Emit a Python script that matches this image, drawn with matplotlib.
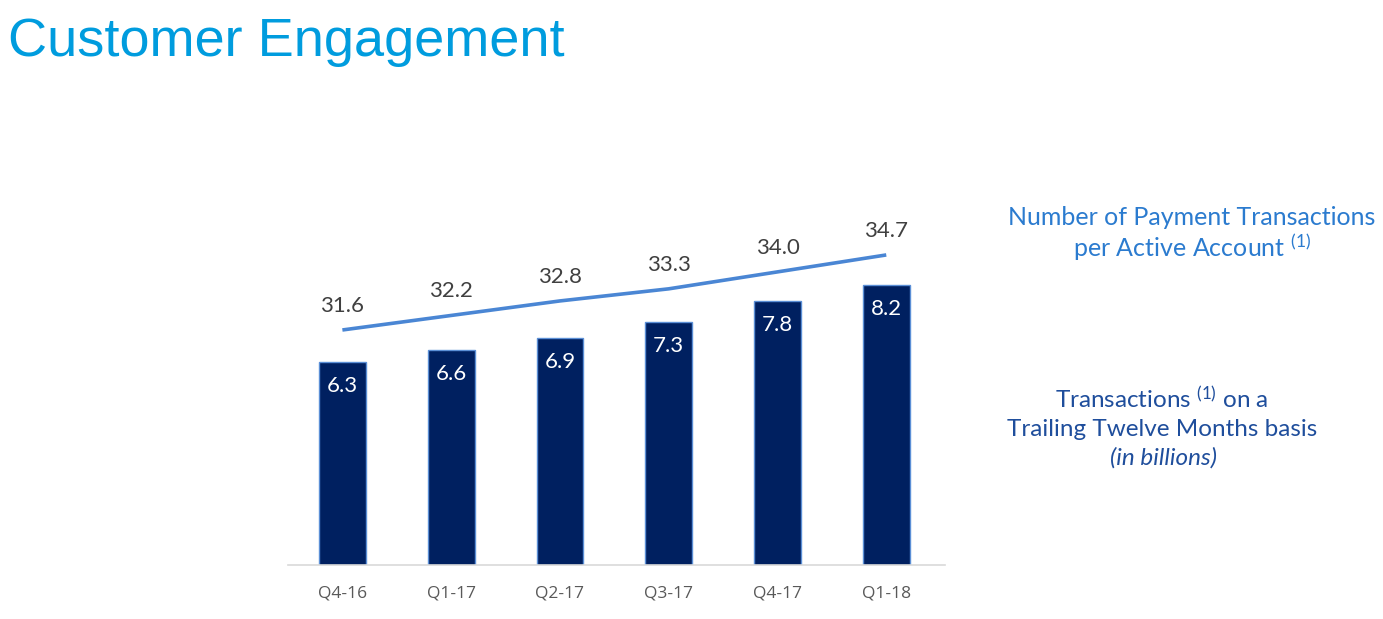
import matplotlib.pyplot as plt
import numpy as np

plt.rcParams['mathtext.fontset'] = 'custom'
plt.rcParams['mathtext.rm'] = 'Lato'
plt.rcParams['mathtext.it'] = 'Lato:italic'

# chart data
quarters = ['Q4-16', 'Q1-17', 'Q2-17', 'Q3-17', 'Q4-17', 'Q1-18']
ttm_transactions = [6.3, 6.6, 6.9, 7.3, 7.8, 8.2]          # billions, bars
tx_per_account = [31.6, 32.2, 32.8, 33.3, 34.0, 34.7]      # line

navy = '#002060'
line_blue = '#4A86D4'
title_blue = '#009CDE'

fig = plt.figure(figsize=(13.83, 6.19), dpi=100)
ax = fig.add_axes([288 / 1383, 1 - 565 / 619, 657 / 1383, 365 / 619])
x = np.arange(len(quarters))

bars = ax.bar(x, ttm_transactions, width=0.43, color=navy, edgecolor='#5B8FD6', linewidth=1)
ax.set_ylim(1.29, 10.30)
ax.set_xlim(-0.5, 5.54)
for xi, v in zip(x, ttm_transactions):
    ax.annotate(f'{v:.1f}', (xi, v), xytext=(0, -24), textcoords='offset pixels',
                ha='center', va='center', color='white', fontsize=16, family='Lato')

for s in ['top', 'left', 'right']:
    ax.spines[s].set_visible(False)
ax.spines['bottom'].set_color('#D9D9D9')
ax.spines['bottom'].set_linewidth(1.2)
ax.set_yticks([])
ax.set_xticks(x)
ax.set_xticklabels(quarters, fontsize=12.5, color='#595959', family='Open Sans')
ax.tick_params(axis='x', length=0, pad=15)

ax2 = ax.twinx()
ax2.plot(x, tx_per_account, color=line_blue, linewidth=2.6, solid_capstyle='butt')
ax2.set_ylim(21.89, 36.97)
ax2.axis('off')
for xi, v in zip(x, tx_per_account):
    ax2.annotate(f'{v:.1f}', (xi, v), xytext=(0, 24), textcoords='offset pixels',
                 ha='center', va='center', color='#404040', fontsize=16, family='Lato')

fig.text(8 / 1383, 1 - 42 / 619, 'Customer Engagement', color=title_blue,
         fontsize=39, family='Liberation Sans', va='center', ha='left')

top_blue = '#2B7BCF'
fig.text(1192 / 1383, 1 - 218 / 619, 'Number of Payment Transactions',
         color=top_blue, fontsize=18, family='Lato', ha='center', va='center')
fig.text(1192 / 1383, 1 - 247 / 619, r'per Active Account $^{(1)}$',
         color=top_blue, fontsize=18, family='Lato', ha='center', va='center')

low_blue = '#1F4E9C'
fig.text(1162 / 1383, 1 - 400 / 619, r'Transactions $^{(1)}$ on a',
         color=low_blue, fontsize=17.5, family='Lato', ha='center', va='center')
fig.text(1162 / 1383, 1 - 429 / 619, 'Trailing Twelve Months basis',
         color=low_blue, fontsize=17.5, family='Lato', ha='center', va='center')
fig.text(1164 / 1383, 1 - 458 / 619, '(in billions)',
         color=low_blue, fontsize=17.5, family='Lato', style='italic', ha='center', va='center')

fig.savefig('out.png', dpi=100)
